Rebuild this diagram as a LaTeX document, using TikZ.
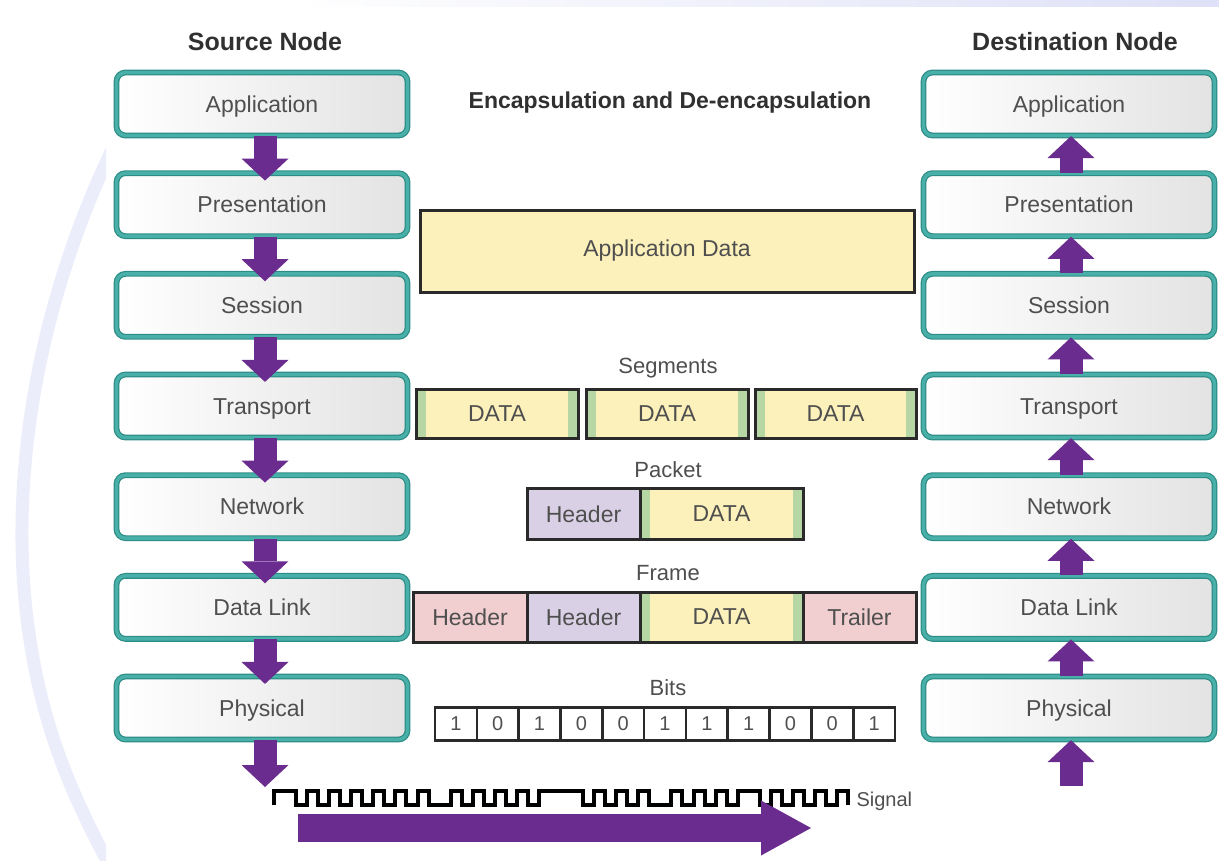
\documentclass[tikz,border=0pt]{standalone}
\usepackage{fontspec}
\setmainfont{Liberation Sans}
\usetikzlibrary{arrows.meta,calc}

\definecolor{tealedge}{HTML}{2E8C86}
\definecolor{tealmid}{HTML}{48B0A8}
\definecolor{arrowpurple}{HTML}{6A2C8E}
\definecolor{labelgray}{HTML}{4F4F4F}
\definecolor{titlegray}{HTML}{303030}
\definecolor{datayellow}{HTML}{FCF1BA}
\definecolor{datagreen}{HTML}{B6D6A4}
\definecolor{hdrlilac}{HTML}{D9D0E5}
\definecolor{hdrpink}{HTML}{F1CFD1}
\definecolor{boxedge}{HTML}{2A2A2A}
\definecolor{haze}{HTML}{C9CDF2}

\tikzset{
  layer/.style={draw=tealedge, double=tealmid, double distance=3.4pt, line width=1.2pt,
    rounded corners=9pt, minimum width=291pt, minimum height=63pt, inner sep=0pt,
    left color=white, right color=black!11, text=labelgray,
    text height=16.5pt, text depth=0pt,
    font=\fontsize{23}{27}\selectfont},
  heading/.style={text=titlegray, font=\bfseries\fontsize{25}{30}\selectfont},
  caption/.style={text=labelgray, font=\fontsize{22}{26}\selectfont},
  cell/.style={draw=boxedge, line width=3pt, inner sep=0pt, text=labelgray,
    font=\fontsize{23}{27}\selectfont},
  datacell/.style={cell, fill=datayellow,
    path picture={
      \fill[datagreen] (path picture bounding box.north west) rectangle
        ([xshift=10pt]path picture bounding box.south west);
      \fill[datagreen] (path picture bounding box.north east) rectangle
        ([xshift=-10pt]path picture bounding box.south east);}},
  bitcell/.style={draw=boxedge, line width=2.6pt, fill=white, inner sep=0pt,
    minimum width=41.8pt, minimum height=33pt, text=labelgray,
    font=\fontsize{20}{24}\selectfont},
  flow/.style={draw=arrowpurple, line width=23pt,
    -{Triangle[width=47pt,length=22pt,line width=0pt]}},
  wave/.style={draw=black, line width=4pt, line join=miter},
}

\begin{document}
\begin{tikzpicture}[x=1pt,y=-1pt]
  % canvas
  \fill[white] (0,0) rectangle (1219,860);
  \useasboundingbox (0,0) rectangle (1219,860);
  % faint backdrop: arc on the left margin and a band along the top
  \begin{scope}
    \clip (0,0) rectangle (106,860);
    \draw[haze, opacity=0.35, line width=13pt]
      (112,150) .. controls (40,300) and (5,480) .. (30,640)
      .. controls (45,740) and (80,810) .. (112,870);
  \end{scope}
  \shade[left color=white, right color=haze, opacity=0.6] (300,0) rectangle (1219,6);

  % column headings and title
  \node[heading] (srchead) at (265,42) {Source Node};
  \node[heading] (dsthead) at (1075,42) {Destination Node};
  \node[heading, font=\bfseries\fontsize{23}{27}\selectfont] (title) at (670,103)
    {Encapsulation and De-encapsulation};

  % protocol stacks
  \foreach \name [count=\k] in {Application,Presentation,Session,Transport,Network,Data Link,Physical} {
    \node[layer] (L\k) at (262,{104+100.67*(\k-1)}) {\name};
    \node[layer] (R\k) at (1069,{104+100.67*(\k-1)}) {\name};
  }

  % data passed down the source stack
  \foreach \k [evaluate=\k as \n using int(\k+1)] in {1,...,6} {
    \draw[flow] ([xshift=3pt]L\k.south) -- ([xshift=3pt,yshift=-8pt]L\n.north);
  }
  \coordinate (srcout) at (265,787);
  \draw[flow] ([xshift=3pt]L7.south) -- (srcout);

  % data passed up the destination stack
  \foreach \k [evaluate=\k as \n using int(\k+1)] in {1,...,6} {
    \draw[flow] ([xshift=2pt]R\n.north) -- ([xshift=2pt]R\k.south);
  }
  \coordinate (dstin) at (1071,786);
  \draw[flow] (dstin) -- ([xshift=2pt]R7.south);

  % application data
  \node[cell, fill=datayellow, minimum width=494pt, minimum height=82pt] (appdata)
    at (667,251) {Application Data};

  % segments
  \node[caption] (seglbl) at (668,368) {Segments};
  \node[datacell, minimum width=162pt, minimum height=49pt] (seg1) at (497,413.5) {DATA};
  \node[datacell, minimum width=162pt, minimum height=49pt] (seg2) at (667,413.5) {DATA};
  \node[datacell, minimum width=161pt, minimum height=49pt] (seg3) at (835.5,413.5) {DATA};

  % packet
  \node[caption] (pktlbl) at (668,470) {Packet};
  \node[cell, fill=hdrlilac, minimum width=113pt, minimum height=51pt] (pkthdr) at (583.5,514) {Header};
  \node[datacell, minimum width=163pt, minimum height=51pt] (pktdata) at (721.5,514) {DATA};

  % frame
  \node[caption] (frmlbl) at (668,573) {Frame};
  \node[cell, fill=hdrpink, minimum width=114pt, minimum height=50pt] (frmhdr2) at (470,617) {Header};
  \node[cell, fill=hdrlilac, minimum width=113pt, minimum height=50pt] (frmhdr3) at (583.5,617) {Header};
  \node[datacell, minimum width=163pt, minimum height=50pt] (frmdata) at (721.5,617) {DATA};
  \node[cell, fill=hdrpink, minimum width=113pt, minimum height=50pt] (frmtrl) at (859.5,617) {Trailer};

  % bits
  \node[caption] (bitlbl) at (668,688) {Bits};
  \foreach \b [count=\i] in {1,0,1,0,0,1,1,1,0,0,1} {
    \node[bitcell] (bit\i) at ({435+41.82*(\i-0.5)},724) {\b};
  }

  % signal on the medium
  \def\u{11.04}
  \coordinate (sigstart) at (274,805);
  \draw[wave] (sigstart) -- ++(0,-14)
    \foreach \r/\s in {2/14,
                       1/-14,1/14,1/-14,1/14,1/-14,1/14,1/-14,1/14,1/-14,1/14,1/-14,1/14,
                       2/-14,
                       1/14,1/-14,1/14,1/-14,1/14,1/-14,1/14,1/-14,
                       4/14,
                       1/-14,1/14,1/-14,1/14,1/-14,1/14,
                       2/-14,
                       1/14,1/-14,1/14,1/-14,1/14,1/-14,
                       2/14,
                       1/-14,1/14,1/-14,1/14,1/-14,1/14,1/-14,1/14}
    { -- ++(\r*\u,0) -- ++(0,\s) };
  \node[caption, anchor=west, font=\fontsize{20}{24}\selectfont] (siglbl) at (853,801) {Signal};

  \coordinate (mediumstart) at (298,828);
  \coordinate (mediumend) at (811,828);
  \draw[draw=arrowpurple, line width=28pt,
    -{Triangle[width=55pt,length=50pt,line width=0pt]}] (mediumstart) -- (mediumend);
\end{tikzpicture}
\end{document}
